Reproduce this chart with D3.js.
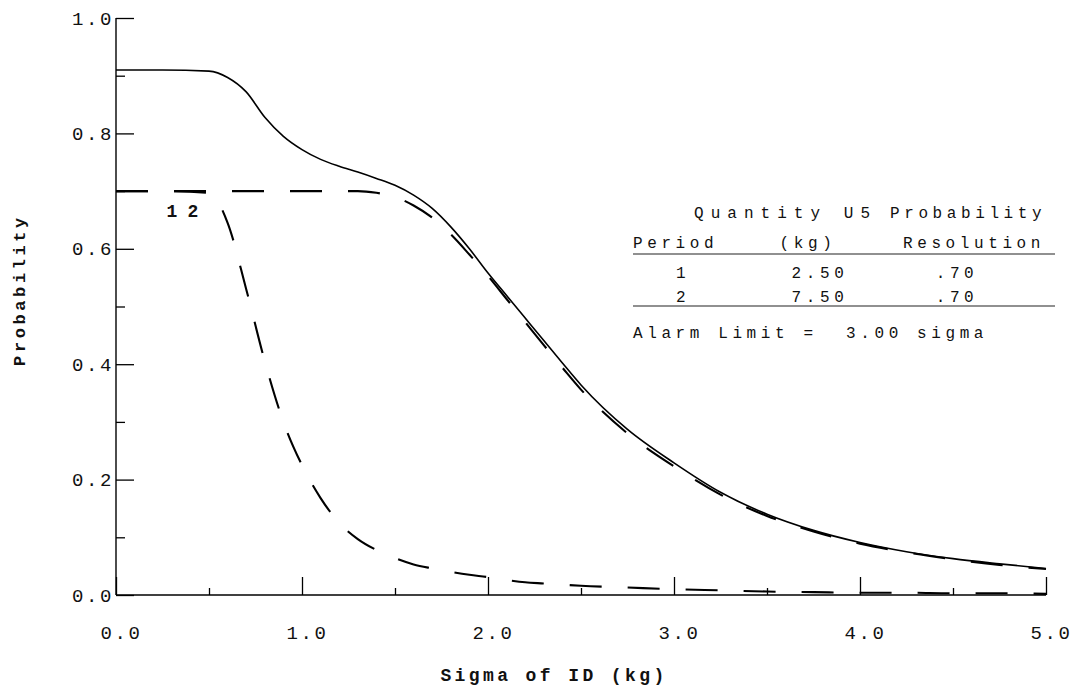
<!DOCTYPE html>
<html>
<head>
<meta charset="utf-8">
<script src="https://cdn.jsdelivr.net/npm/d3@7"></script>
<style>
    body { margin: 0; background: #fff; }
    svg { display: block; }
    .tick-label text, .legend text { font-family: "Liberation Mono", "DejaVu Sans Mono", monospace; fill: #111; }
    .title { font-family: "Liberation Mono", "DejaVu Sans Mono", monospace; font-weight: bold; fill: #111; }
</style>
</head>
<body>
<div class="chart-container"></div>
<script>
// sigma of ID (kg) at which the curves were read
const sigma = [0, 0.25, 0.5, 0.6, 0.7, 0.8, 0.9, 1.0, 1.1, 1.2, 1.3, 1.4, 1.5, 1.6, 1.7, 1.8, 1.9,
               2.0, 2.1, 2.2, 2.3, 2.4, 2.5, 2.75, 3.0, 3.25, 3.5, 3.75, 4.0, 4.25, 4.5, 4.75, 5.0];

// combined probability (solid)
const totalProb = [0.910, 0.910, 0.908, 0.897, 0.872, 0.828, 0.795, 0.772, 0.755, 0.743, 0.733, 0.722, 0.710,
                   0.693, 0.670, 0.638, 0.600, 0.558, 0.519, 0.480, 0.441, 0.402, 0.364, 0.287, 0.229, 0.178,
                   0.140, 0.112, 0.091, 0.075, 0.063, 0.054, 0.046];

// period 1, 2.50 kg (dashed, steep)
const period1Prob = [0.700, 0.700, 0.697, 0.645, 0.530, 0.405, 0.300, 0.225, 0.168, 0.125, 0.097, 0.078, 0.064,
                     0.053, 0.046, 0.040, 0.035, 0.031, 0.026, 0.022, 0.020, 0.018, 0.016, 0.013, 0.010, 0.008,
                     0.006, 0.005, 0.004, 0.004, 0.003, 0.003, 0.002];

// period 2, 7.50 kg (dashed)
const period2Prob = [0.700, 0.700, 0.700, 0.700, 0.700, 0.700, 0.700, 0.700, 0.700, 0.700, 0.700, 0.697, 0.690,
                     0.675, 0.654, 0.625, 0.590, 0.553, 0.513, 0.473, 0.433, 0.394, 0.356, 0.280, 0.223, 0.174,
                     0.137, 0.110, 0.089, 0.074, 0.062, 0.052, 0.045];

const curveLabels = ["1", "2"];

// table in the plot
const periods = ["1", "2"];
const quantities = ["2.50", "7.50"];
const resolutions = [".70", ".70"];
const alarmLimit = "3.00";

const xTicks = [0, 1, 2, 3, 4, 5];
const xMinorTicks = [0.5, 1.5, 2.5, 3.5, 4.5];
const yTicks = [0, 0.2, 0.4, 0.6, 0.8, 1.0];
const yMinorTicks = [0.1, 0.3, 0.5, 0.7, 0.9];

const w = 1079;
const h = 693;

const xScale = d3.scaleLinear().domain([0, 5]).range([116, 1046]);
const yScale = d3.scaleLinear().domain([0, 1]).range([595, 18]);

const svg = d3.select(".chart-container")
              .append("svg")
              .attr("width", w)
              .attr("height", h);

drawAxis(svg);

const line = d3.line()
               .x(d => xScale(d[0]))
               .y(d => yScale(d[1]))
               .curve(d3.curveMonotoneX);

const series = [
    {values: totalProb, dash: null, width: 1.6},
    {values: period2Prob, dash: "32,26", width: 2.1},
    {values: period1Prob, dash: "32,26", width: 2.1}
];

svg.selectAll("path.curve")
   .data(series)
   .enter().append("path")
   .attr("class", "curve")
   .attr("d", s => line(sigma.map((x, i) => [x, s.values[i]])))
   .attr("fill", "none")
   .attr("stroke", "#000")
   .attr("stroke-width", s => s.width)
   .attr("stroke-dasharray", s => s.dash);

// period numbers under the 0.70 line
svg.append("g")
   .attr("class", "legend")
   .selectAll("text")
   .data(curveLabels)
   .enter().append("text")
   .attr("x", (d, i) => xScale(0.3) + i * 21)
   .attr("y", yScale(0.7) + 26)
   .attr("text-anchor", "middle")
   .style("font-size", "18px")
   .style("font-weight", "bold")
   .text(d => d);

drawTable(svg);

function drawAxis(svg) {
    const fmt = d3.format(".1f");

    const xAxis = svg.append("g")
        .attr("class", "tick-label")
        .attr("transform", `translate(0, ${yScale(0)})`)
        .call(d3.axisBottom(xScale).tickValues(xTicks).tickFormat(fmt).tickSize(-18).tickPadding(31));
    svg.append("g")
        .attr("transform", `translate(0, ${yScale(0)})`)
        .call(d3.axisBottom(xScale).tickValues(xMinorTicks).tickFormat("").tickSize(-7))
        .call(g => g.select(".domain").remove());

    const yAxis = svg.append("g")
        .attr("class", "tick-label")
        .attr("transform", `translate(${xScale(0)}, 0)`)
        .call(d3.axisLeft(yScale).tickValues(yTicks).tickFormat(fmt).tickSize(-18).tickPadding(2));
    svg.append("g")
        .attr("transform", `translate(${xScale(0)}, 0)`)
        .call(d3.axisLeft(yScale).tickValues(yMinorTicks).tickFormat("").tickSize(-9))
        .call(g => g.select(".domain").remove());

    [xAxis, yAxis].forEach(g => {
        g.select(".domain").attr("d", null);
        g.selectAll("text").style("font-size", "19px").style("letter-spacing", "2.6px");
    });
    xAxis.selectAll("text").attr("dx", 5);

    // plain axis lines (no end caps)
    svg.append("line")
       .attr("x1", xScale(0)).attr("x2", xScale(5))
       .attr("y1", yScale(0)).attr("y2", yScale(0))
       .attr("stroke", "#000").attr("stroke-width", 1.4);
    svg.append("line")
       .attr("x1", xScale(0)).attr("x2", xScale(0))
       .attr("y1", yScale(0)).attr("y2", yScale(1))
       .attr("stroke", "#000").attr("stroke-width", 1.4);

    svg.selectAll(".tick line").attr("stroke", "#000").attr("stroke-width", 1.3);

    svg.append("text")
       .attr("class", "title")
       .attr("text-anchor", "middle")
       .style("font-size", "18px")
       .style("letter-spacing", "3.4px")
       .text("Sigma of ID (kg)")
       .attr("transform", "translate(554, 681)");

    svg.append("text")
       .attr("class", "title")
       .attr("text-anchor", "middle")
       .style("font-size", "17px")
       .style("letter-spacing", "3.6px")
       .text("Probability")
       .attr("transform", "translate(25, 290) rotate(-90)");
}

function drawTable(svg) {
    const g = svg.append("g").attr("class", "legend")
                 .style("font-size", "16px")
                 .style("letter-spacing", "4.6px");
    const colX = [681, 818, 955];

    g.append("text").attr("x", 694).attr("y", 218)
     .attr("textLength", 176).attr("lengthAdjust", "spacing")
     .style("letter-spacing", "0px")
     .text("Quantity U5");
    g.append("text").attr("x", 890).attr("y", 218).text("Probability");
    g.append("text").attr("x", 633).attr("y", 248).text("Period");
    g.append("text").attr("x", 808).attr("y", 248).attr("text-anchor", "middle").text("(kg)");
    g.append("text").attr("x", 903).attr("y", 248).text("Resolution");

    g.selectAll("text.row-period")
     .data(periods).enter().append("text")
     .attr("class", "row-period")
     .attr("x", colX[0] + 2).attr("y", (d, i) => 278 + i * 24)
     .attr("text-anchor", "middle").text(d => d);
    g.selectAll("text.row-qty")
     .data(quantities).enter().append("text")
     .attr("class", "row-qty")
     .attr("x", colX[1] + 2).attr("y", (d, i) => 278 + i * 24)
     .attr("text-anchor", "middle").text(d => d);
    g.selectAll("text.row-res")
     .data(resolutions).enter().append("text")
     .attr("class", "row-res")
     .attr("x", colX[2] + 2).attr("y", (d, i) => 278 + i * 24)
     .attr("text-anchor", "middle").text(d => d);

    [254, 306].forEach(y => {
        g.append("line")
         .attr("x1", 633).attr("x2", 1055)
         .attr("y1", y).attr("y2", y)
         .attr("stroke", "#222").attr("stroke-width", 1.2);
    });

    g.append("text").attr("x", 633).attr("y", 338)
     .attr("xml:space", "preserve")
     .style("white-space", "pre")
     .text(`Alarm Limit =  ${alarmLimit} sigma`);
}
</script>
</body>
</html>
